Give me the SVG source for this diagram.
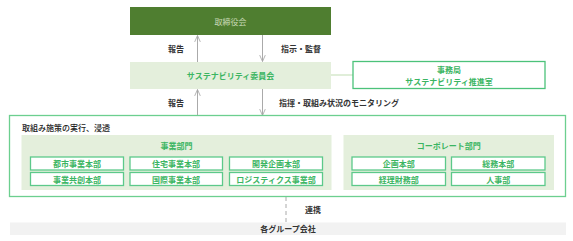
<svg xmlns="http://www.w3.org/2000/svg" width="573" height="241" viewBox="0 0 573 241">
<defs>
<marker id="ah" viewBox="0 0 10 10" refX="9" refY="5" markerWidth="8" markerHeight="8" orient="auto" markerUnits="userSpaceOnUse">
<path d="M1,1.5 L9,5 L1,8.5" fill="none" stroke="#aaaaaa" stroke-width="1.1"/>
</marker>
</defs>
<style>
text{font-family:"Noto Sans CJK JP","Noto Sans",sans-serif;font-size:8px;text-anchor:middle;dominant-baseline:central}
.g{fill:#3bb562;font-weight:bold}
.d{fill:#333333;font-weight:bold}
.panel{fill:#e4efdc}
.sub{fill:#ffffff;stroke:#5cc98a;stroke-width:1.3}
.arr{stroke:#aaaaaa;stroke-width:1;fill:none;marker-end:url(#ah)}
</style>
<g id="connectors">
<line class="arr" x1="197.5" y1="62" x2="197.5" y2="35.5"/>
<line class="arr" x1="262.5" y1="35" x2="262.5" y2="61.5"/>
<line class="arr" x1="197.5" y1="116" x2="197.5" y2="89.5"/>
<line class="arr" x1="262.5" y1="89" x2="262.5" y2="115.5"/>
<line x1="331" y1="75" x2="353" y2="75" stroke="#d6e8cc" stroke-width="1.5"/>
<line x1="286" y1="197" x2="286" y2="222" stroke="#aaaaaa" stroke-width="1" stroke-dasharray="4,3"/>
<text class="d" x="176" y="48">報告</text>
<text class="d" x="281" y="48" style="text-anchor:start">指示・監督</text>
<text class="d" x="176" y="102">報告</text>
<text class="d" x="279" y="102" style="text-anchor:start">指揮・取組み状況のモニタリング</text>
<text class="d" x="305" y="209" style="text-anchor:start">連携</text>
</g>
<g id="board">
<rect x="130" y="7" width="201" height="28" fill="#4f7e30"/>
<text x="230.5" y="21" fill="#c8d9b6">取締役会</text>
</g>
<g id="committee">
<rect x="130" y="62" width="201" height="27" class="panel"/>
<text class="g" x="230.5" y="75.5">サステナビリティ委員会</text>
</g>
<g id="office">
<rect x="353" y="61.5" width="192" height="27" fill="#ffffff" stroke="#4cc27a" stroke-width="1.3"/>
<text class="g" x="449" y="69">事務局</text>
<text class="g" x="449" y="81">サステナビリティ推進室</text>
</g>
<g id="implementation">
<rect x="9.5" y="115.5" width="556" height="81" fill="#ffffff" stroke="#6ccf8f" stroke-width="1.3"/>
<text x="22" y="127.5" style="text-anchor:start;font-weight:500;fill:#222">取組み施策の実行、浸透</text>
</g>
<g id="business">
<rect x="21.5" y="135" width="310" height="55" class="panel"/>
<text class="g" x="176.5" y="145">事業部門</text>
</g>
<g id="b1"><rect class="sub" x="30.5" y="157" width="93" height="13"/><text class="g" x="77" y="163.5">都市事業本部</text></g>
<g id="b2"><rect class="sub" x="130" y="157" width="92.5" height="13"/><text class="g" x="176" y="163.5">住宅事業本部</text></g>
<g id="b3"><rect class="sub" x="229.5" y="157" width="93" height="13"/><text class="g" x="276" y="163.5">開発企画本部</text></g>
<g id="b4"><rect class="sub" x="30.5" y="172.5" width="93" height="13"/><text class="g" x="77" y="179">事業共創本部</text></g>
<g id="b5"><rect class="sub" x="130" y="172.5" width="92.5" height="13"/><text class="g" x="176" y="179">国際事業本部</text></g>
<g id="b6"><rect class="sub" x="229.5" y="172.5" width="93" height="13"/><text class="g" x="276" y="179">ロジスティクス事業部</text></g>
<g id="corporate">
<rect x="343.5" y="135" width="210.5" height="55" class="panel"/>
<text class="g" x="448.7" y="145">コーポレート部門</text>
</g>
<g id="c1"><rect class="sub" x="352" y="157" width="93.5" height="13"/><text class="g" x="398.7" y="163.5">企画本部</text></g>
<g id="c2"><rect class="sub" x="451.5" y="157" width="93.5" height="13"/><text class="g" x="498.2" y="163.5">総務本部</text></g>
<g id="c3"><rect class="sub" x="352" y="172.5" width="93.5" height="13"/><text class="g" x="398.7" y="179">経理財務部</text></g>
<g id="c4"><rect class="sub" x="451.5" y="172.5" width="93.5" height="13"/><text class="g" x="498.2" y="179">人事部</text></g>
<g id="group">
<rect x="10" y="222.5" width="556" height="12.5" fill="#f2f2f2"/>
<text class="d" x="288" y="228.8">各グループ会社</text>
</g>
</svg>
